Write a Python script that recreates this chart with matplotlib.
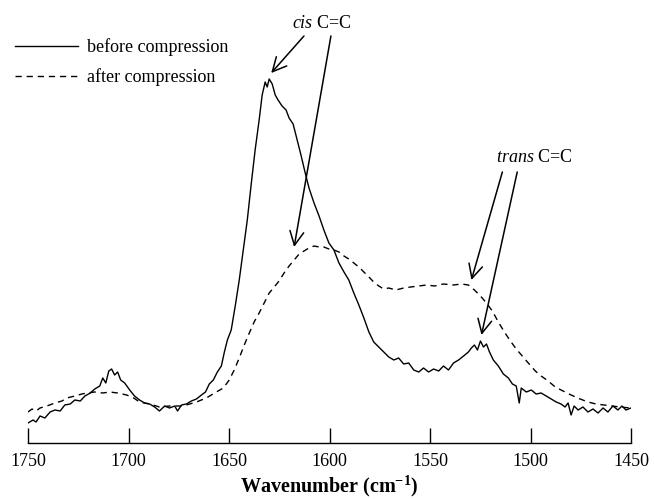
import matplotlib
matplotlib.use('Agg')
import matplotlib.pyplot as plt
import numpy as np

plt.rcParams['font.family'] = ['Liberation Serif', 'DejaVu Serif']
plt.rcParams['mathtext.fontset'] = 'custom'
plt.rcParams['mathtext.rm'] = 'Liberation Serif'
plt.rcParams['mathtext.it'] = 'Liberation Serif:italic'
plt.rcParams['mathtext.bf'] = 'Liberation Serif:bold'

# spectrum before compression (wavenumber, absorbance in arbitrary units)
wn_before = [1750, 1747.5, 1746, 1744, 1741.6, 1739, 1736.6, 1734, 1731.7, 1729,
             1726.7, 1724, 1721.7, 1719, 1716.8, 1714.3, 1712.8, 1711.3, 1709.8, 1708.4,
             1706.9, 1705.4, 1703.9, 1701.9, 1699.4, 1697, 1694.5, 1692, 1689.5, 1687,
             1684.6, 1682, 1679.6, 1677, 1675.6, 1673.6, 1671.2, 1668.7, 1666.2, 1663.7,
             1661.7, 1659.8, 1657.8, 1655.8, 1653.8, 1652.3, 1650.8, 1648.9, 1646.9, 1644.9,
             1642.9, 1640.9, 1639, 1637, 1635, 1633.5, 1632, 1631, 1630, 1628.5,
             1627, 1625.6, 1623.6, 1621.6, 1620.1, 1618.1, 1616.1, 1614.2, 1612.2, 1610.2,
             1607.7, 1605.2, 1602.8, 1600.3, 1597.8, 1595.3, 1592.8, 1590.4, 1587.9, 1585.4,
             1582.9, 1580.4, 1578, 1575.5, 1573, 1570.5, 1568, 1565.6, 1563.1, 1560.6,
             1558.1, 1555.6, 1553.2, 1550.7, 1548.2, 1545.7, 1543.3, 1540.8, 1538.3, 1535.8,
             1533.3, 1530.9, 1529.4, 1527.9, 1526.4, 1524.9, 1523.4, 1521.9, 1520.4, 1518.5,
             1516, 1513.5, 1511, 1509, 1507.1, 1505.6, 1504.6, 1502.1, 1499.6, 1497.2,
             1494.7, 1492.2, 1489.7, 1487.2, 1484.8, 1482.8, 1481.3, 1479.8, 1478.3, 1476.3,
             1473.9, 1471.4, 1468.9, 1466.4, 1463.9, 1461.5, 1459, 1456.5, 1454.5, 1452.5,
             1450]
abs_before = [5, 8, 6, 12, 10, 16, 18, 17, 23, 24,
              28, 27, 32, 35, 39, 42, 50, 45, 57, 59,
              53, 56, 48, 45, 38, 32, 28, 25, 24, 21,
              17, 22, 20, 22, 17, 23, 24, 27, 29, 33,
              36, 44, 48, 56, 62, 76, 88, 98, 122, 148,
              178, 208, 243, 278, 308, 333, 346, 341, 349, 344,
              333, 328, 322, 318, 310, 304, 288, 273, 256, 240,
              225, 212, 198, 185, 178, 165, 156, 148, 135, 123,
              110, 96, 86, 81, 76, 71, 68, 70, 64, 65,
              58, 56, 60, 56, 59, 57, 62, 58, 65, 68,
              72, 76, 80, 83, 78, 87, 81, 84, 76, 68,
              62, 54, 50, 44, 42, 25, 40, 36, 38, 34,
              35, 32, 29, 26, 24, 21, 25, 13, 22, 18,
              21, 16, 19, 15, 20, 16, 22, 18, 22, 18,
              20]

# spectrum after compression
wn_after = [1750, 1748, 1746, 1744, 1740.6, 1736.6, 1733.1, 1730.7, 1726.7, 1723.2,
            1720.7, 1716.8, 1712.8, 1709.3, 1705.4, 1700.9, 1697.4, 1694.5, 1689.5, 1684.6,
            1679.6, 1674.6, 1671.2, 1666.2, 1661.3, 1656.3, 1652.8, 1649.9, 1647.4, 1644.9,
            1642.4, 1639.9, 1637.5, 1635, 1632.5, 1630, 1627.5, 1625.1, 1622.6, 1620.1,
            1617.6, 1615.1, 1612.7, 1610.2, 1607.7, 1605.2, 1602.8, 1600.3, 1597.8, 1595.3,
            1592.8, 1590.4, 1587.9, 1585.4, 1582.9, 1580.4, 1578, 1575.5, 1573, 1570.5,
            1567, 1563.1, 1559.6, 1555.6, 1551.7, 1547.7, 1543.3, 1538.3, 1534.3, 1530.9,
            1527.9, 1524.9, 1521.9, 1519, 1516, 1513, 1510, 1507.1, 1504.1, 1501.1,
            1497.6, 1494.7, 1491.2, 1487.7, 1483.8, 1479.8, 1475.3, 1471.4, 1467.4, 1463.4,
            1459.5, 1455.5, 1450]
abs_after = [16, 19, 17, 20, 22, 25, 27, 30, 32, 34,
             35, 36, 35, 36, 35, 33, 30, 26, 24, 21,
             22, 22, 23, 26, 30, 36, 40, 48, 58, 70,
             83, 95, 106, 115, 125, 135, 141, 147, 155, 162,
             168, 174, 177, 180, 182, 181, 181, 179, 178, 176,
             172, 169, 165, 161, 156, 151, 146, 142, 139, 140,
             138, 140, 141, 142, 143, 142, 144, 143, 144, 143,
             138, 132, 125, 117, 106, 96, 87, 79, 72, 65,
             57, 52, 47, 41, 37, 33, 29, 26, 24, 23,
             22, 21, 20]

x_ticks = [1750, 1700, 1650, 1600, 1550, 1500, 1450]

fig = plt.figure(figsize=(6.54, 4.99), dpi=100)
ax = fig.add_axes([28 / 654, 56 / 499, 603 / 654, 443 / 499])

ax.plot(wn_before, abs_before, color='black', lw=1.0, label='before compression')
ax.plot(wn_after, abs_after, color='black', lw=1.0, linestyle=(0, (4.5, 3.5)),
        label='after compression')

ax.set_xlim(1750, 1450)
ax.set_ylim(-15, 428)
ax.set_xticks(x_ticks)
ax.set_yticks([])
for side in ['top', 'right', 'left']:
    ax.spines[side].set_visible(False)
ax.spines['bottom'].set_linewidth(1.0)
ax.tick_params(axis='x', direction='in', length=11, width=1.0, pad=7, labelsize=13)
ax.set_xlabel(r'Wavenumber (cm$^{\mathbf{-1}}$)', fontsize=14.5, fontweight='bold', labelpad=3)

fig.legend(loc='upper left', bbox_to_anchor=(15 / 654, 1 - 38 / 499), frameon=False,
           fontsize=13, handlelength=3.5, handletextpad=0.5, labelspacing=0.7,
           borderpad=0, borderaxespad=0)

arrow = dict(arrowstyle='->,head_length=1.0,head_width=0.5', lw=1.1, color='black',
             shrinkA=0, shrinkB=0)

# cis C=C
ax.text(1604, 405, r'$\it{cis}$ C=C', fontsize=13, ha='center', va='center')
ax.annotate('', xy=(1629, 355), xytext=(1612.7, 392), arrowprops=arrow)
ax.annotate('', xy=(1617.6, 181), xytext=(1599.3, 392), arrowprops=arrow)

# trans C=C
ax.text(1498, 271, r'$\it{trans}$ C=C', fontsize=13, ha='center', va='center')
ax.annotate('', xy=(1529.4, 148), xytext=(1514, 256), arrowprops=arrow)
ax.annotate('', xy=(1524.4, 93), xytext=(1506.6, 256), arrowprops=arrow)

fig.savefig('out.png', dpi=100)
